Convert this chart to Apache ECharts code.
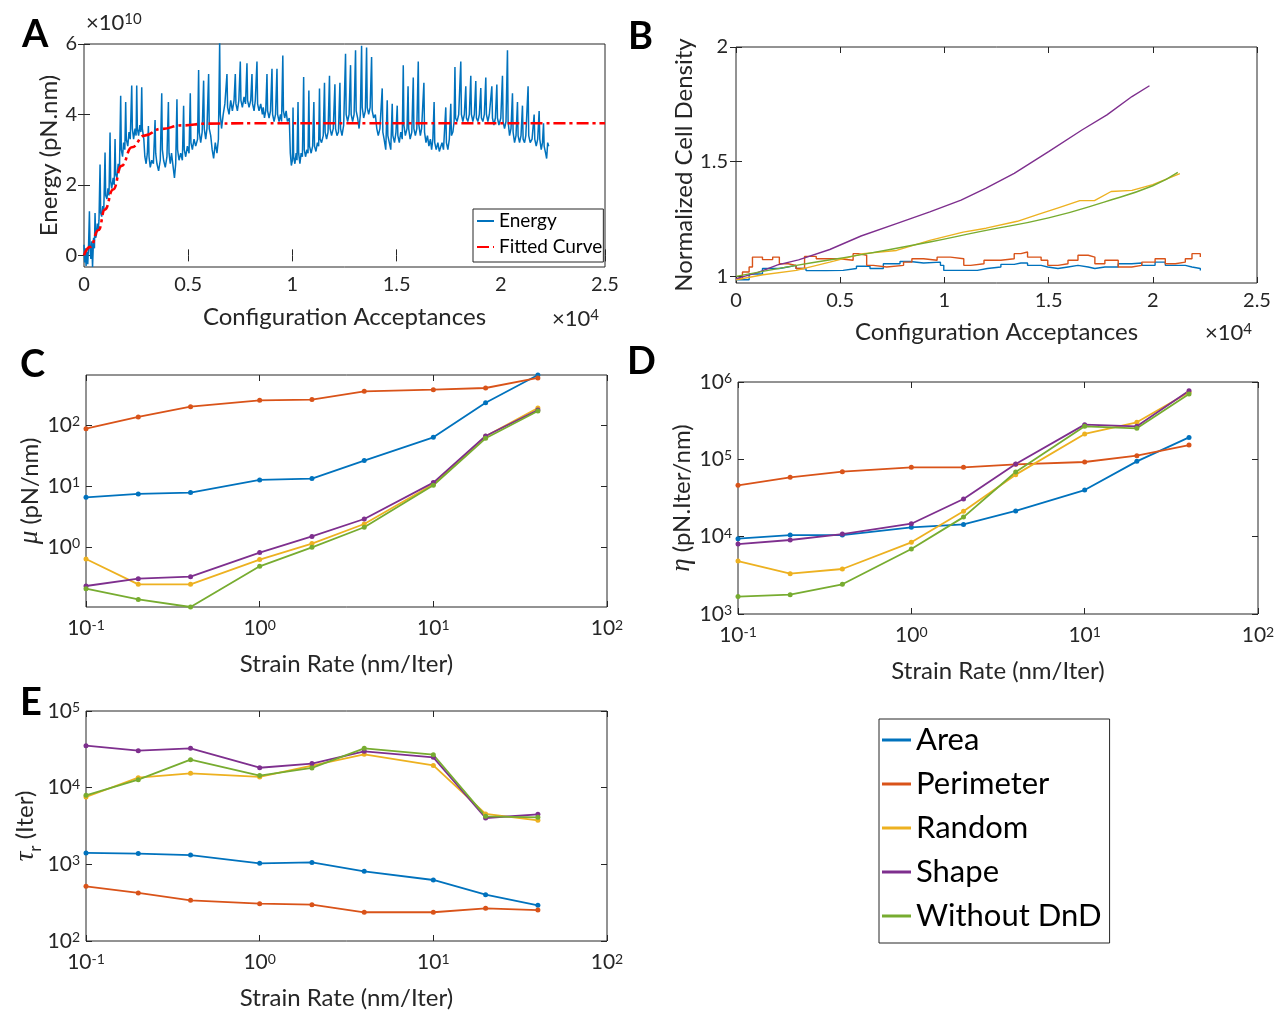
<!DOCTYPE html>
<html>
<head>
<meta charset="utf-8">
<script src="https://cdn.jsdelivr.net/npm/echarts@6/dist/echarts.min.js"></script>
<style>
html, body { margin: 0; padding: 0; background: #fff; }
#main { width: 1278px; height: 1011px; }
</style>
</head>
<body>
<div id="main"></div>
<script>
// ---- data (A: x in 1e4 acceptances, y in 1e10 pN.nm) ----
const energy = [
  [0,0.3],[0.003,-0.2],[0.006,0.2],[0.01,-0.3],[0.014,0.1],[0.018,-0.25],[0.022,0.3],[0.026,1.25],[0.029,0.2],[0.033,-0.1],
  [0.037,0.4],[0.041,-0.33],[0.046,0.5],[0.05,0.2],[0.053,1.2],[0.056,0.5],[0.06,0.6],[0.064,0.9],[0.068,0.7],[0.072,1.0],
  [0.077,2.58],[0.08,1.2],[0.085,1.1],[0.09,1.4],[0.095,1.3],[0.101,2.92],[0.104,1.7],[0.11,1.6],[0.115,1.9],[0.12,1.7],
  [0.125,3.49],[0.128,2.1],[0.133,1.9],[0.14,2.2],[0.145,2.0],[0.149,3.3],[0.152,2.3],[0.158,2.2],[0.164,2.6],[0.17,2.4],
  [0.176,4.53],[0.179,3.0],[0.185,2.8],[0.19,3.2],[0.196,3.0],[0.2,4.35],[0.203,3.3],[0.21,3.1],[0.216,3.5],[0.222,3.3],
  [0.229,4.82],[0.232,3.6],[0.238,3.3],[0.245,3.6],[0.25,3.4],[0.253,4.82],[0.256,3.6],[0.262,3.4],[0.268,3.7],[0.273,3.5],
  [0.277,4.77],[0.28,3.6],[0.287,3.3],[0.292,2.8],[0.298,2.6],[0.304,2.9],[0.309,3.67],[0.312,2.8],[0.318,2.5],[0.325,2.7],
  [0.333,2.6],[0.341,3.84],[0.344,2.9],[0.35,2.6],[0.358,2.4],[0.366,2.7],[0.373,4.6],[0.376,3.0],[0.382,2.7],[0.39,2.5],
  [0.398,2.8],[0.405,4.35],[0.408,2.9],[0.414,2.6],[0.42,2.9],[0.428,2.5],[0.434,2.2],[0.44,2.6],[0.446,4.43],[0.449,3.0],
  [0.456,2.7],[0.464,2.9],[0.472,2.7],[0.478,4.25],[0.481,3.0],[0.488,2.8],[0.496,3.1],[0.504,2.9],[0.51,4.6],[0.513,3.2],
  [0.52,3.0],[0.528,3.3],[0.536,3.1],[0.545,3.3],[0.55,5.26],[0.553,3.5],[0.56,3.2],[0.567,3.5],[0.574,4.96],[0.577,3.6],
  [0.584,3.3],[0.59,3.6],[0.598,5.15],[0.601,3.6],[0.608,3.4],[0.615,3.0],[0.622,2.75],[0.63,3.2],[0.638,2.9],[0.645,3.3],
  [0.651,6.05],[0.654,4.0],[0.66,3.6],[0.668,4.0],[0.676,4.3],[0.686,5.15],[0.689,4.2],[0.696,4.0],[0.704,4.4],[0.712,4.1],
  [0.72,4.4],[0.726,5.15],[0.729,4.3],[0.736,4.1],[0.743,4.4],[0.75,5.5],[0.753,4.4],[0.76,4.2],[0.768,4.5],[0.775,4.3],
  [0.782,5.45],[0.785,4.4],[0.792,4.2],[0.8,4.4],[0.806,5.15],[0.809,4.3],[0.816,4.1],[0.822,4.4],[0.83,5.5],[0.833,4.3],
  [0.84,4.1],[0.848,4.3],[0.856,4.0],[0.86,4.2],[0.866,3.9],[0.872,4.1],[0.878,5.15],[0.881,4.1],[0.888,3.9],[0.895,4.1],
  [0.902,5.3],[0.905,4.0],[0.912,3.8],[0.919,4.0],[0.926,5.3],[0.929,4.0],[0.936,3.8],[0.943,4.0],[0.948,3.8],[0.954,5.67],
  [0.957,4.1],[0.963,3.9],[0.97,4.1],[0.976,3.8],[0.985,3.9],[0.99,2.9],[0.995,2.55],[1.0,2.7],[1.003,4.2],[1.006,2.8],
  [1.012,2.6],[1.018,2.9],[1.022,2.7],[1.027,4.35],[1.03,2.9],[1.036,2.6],[1.042,2.9],[1.048,2.8],[1.054,5.06],[1.057,3.0],
  [1.063,2.8],[1.07,3.0],[1.075,2.9],[1.079,4.68],[1.082,3.1],[1.09,2.9],[1.097,3.1],[1.103,4.35],[1.106,3.1],[1.113,2.95],
  [1.12,3.2],[1.126,3.1],[1.13,4.74],[1.133,3.3],[1.14,3.2],[1.148,3.4],[1.154,4.9],[1.157,3.5],[1.164,3.3],[1.171,3.5],
  [1.178,5.1],[1.181,3.6],[1.188,3.4],[1.196,3.6],[1.204,4.86],[1.207,3.6],[1.214,3.4],[1.221,3.5],[1.228,4.9],[1.231,3.6],
  [1.238,3.4],[1.246,3.7],[1.255,5.72],[1.258,4.0],[1.265,3.8],[1.272,4.0],[1.279,5.4],[1.282,4.0],[1.289,3.8],[1.296,4.0],
  [1.303,5.82],[1.306,4.1],[1.313,3.9],[1.32,3.6],[1.326,4.0],[1.332,5.95],[1.335,4.2],[1.342,3.9],[1.35,4.1],[1.356,5.9],
  [1.359,4.2],[1.366,4.0],[1.373,4.2],[1.38,5.63],[1.383,4.1],[1.39,3.9],[1.398,4.0],[1.405,3.6],[1.412,3.4],[1.42,3.6],
  [1.431,4.74],[1.434,3.5],[1.44,3.3],[1.448,3.0],[1.455,4.4],[1.458,3.4],[1.465,3.2],[1.472,3.0],[1.479,4.3],[1.482,3.4],
  [1.49,3.2],[1.497,3.5],[1.503,4.25],[1.506,3.4],[1.513,3.2],[1.52,3.5],[1.527,3.3],[1.532,5.4],[1.535,3.7],[1.542,3.4],
  [1.55,3.6],[1.555,4.8],[1.558,3.6],[1.565,3.3],[1.573,3.5],[1.58,5.05],[1.583,3.6],[1.59,3.4],[1.597,3.6],[1.604,5.5],
  [1.607,3.7],[1.614,3.4],[1.62,3.6],[1.631,4.9],[1.634,3.5],[1.641,3.2],[1.648,3.4],[1.655,3.1],[1.662,3.3],[1.668,3.0],
  [1.674,3.3],[1.68,4.35],[1.683,3.2],[1.69,3.0],[1.698,3.2],[1.705,2.95],[1.712,2.9],[1.718,3.2],[1.725,3.0],[1.736,4.2],
  [1.739,3.2],[1.746,3.0],[1.753,3.3],[1.76,4.3],[1.763,3.4],[1.77,3.5],[1.776,3.8],[1.78,5.35],[1.783,3.9],[1.79,3.8],
  [1.798,4.0],[1.808,5.5],[1.811,4.0],[1.818,3.8],[1.825,4.0],[1.832,4.8],[1.835,3.9],[1.842,3.8],[1.849,4.0],[1.856,5.1],
  [1.859,4.0],[1.866,3.8],[1.873,4.0],[1.88,4.95],[1.883,3.9],[1.89,3.8],[1.897,4.0],[1.904,4.75],[1.907,3.9],[1.914,3.8],
  [1.921,4.0],[1.928,5.05],[1.931,4.0],[1.938,3.8],[1.945,4.0],[1.957,4.8],[1.96,3.9],[1.967,3.7],[1.974,3.9],[1.981,4.85],
  [1.984,3.9],[1.991,3.7],[2.0,3.9],[2.008,5.1],[2.011,3.8],[2.018,3.6],[2.025,3.8],[2.032,5.82],[2.035,3.8],[2.042,3.4],
  [2.049,3.6],[2.056,4.6],[2.059,3.5],[2.066,3.2],[2.073,3.4],[2.08,4.35],[2.083,3.4],[2.09,3.2],[2.097,3.4],[2.104,4.25],
  [2.107,3.3],[2.114,3.2],[2.12,3.4],[2.131,4.8],[2.134,3.4],[2.141,3.2],[2.15,3.3],[2.16,4.0],[2.163,3.3],[2.17,3.1],
  [2.177,3.3],[2.184,4.1],[2.187,3.3],[2.194,3.0],[2.2,3.2],[2.205,3.75],[2.208,3.1],[2.215,2.9],[2.22,2.75],[2.225,3.2],[2.23,3.1]
];
const fitX = [0, 0.03, 0.07, 0.1, 0.14, 0.18, 0.23, 0.29, 0.37, 0.47, 0.59, 0.8, 1.2, 2.5];
const fitY = [0, 0.24, 0.72, 1.3, 1.87, 2.54, 3.07, 3.40, 3.59, 3.69, 3.74, 3.75, 3.75, 3.75];

// ---- B: normalized cell density ----
const densArea = [[0,0.985],[0.063,1.01],[0.127,1.034],[0.208,1.041],[0.248,1.048],[0.288,1.034],[0.336,1.025],[0.433,1.026],
  [0.514,1.034],[0.578,1.044],[0.643,1.034],[0.707,1.055],[0.787,1.065],[0.836,1.058],[0.9,1.062],[0.981,1.048],[0.997,1.026],
  [1.093,1.026],[1.158,1.034],[1.206,1.041],[1.271,1.052],[1.335,1.058],[1.367,1.058],[1.399,1.048],[1.464,1.041],[1.496,1.034],
  [1.545,1.041],[1.593,1.048],[1.641,1.041],[1.69,1.034],[1.722,1.041],[1.77,1.041],[1.834,1.055],[1.899,1.058],[1.947,1.048],
  [2.011,1.062],[2.06,1.048],[2.108,1.048],[2.156,1.041],[2.188,1.034],[2.228,1.026]];
const densPerim = [[0,0.99],[0.031,1.019],[0.063,1.041],[0.079,1.084],[0.127,1.073],[0.176,1.084],[0.208,1.055],[0.25,1.048],
  [0.288,1.034],[0.329,1.087],[0.385,1.077],[0.449,1.077],[0.498,1.07],[0.562,1.099],[0.586,1.092],[0.627,1.048],[0.659,1.041],
  [0.723,1.048],[0.804,1.062],[0.844,1.077],[0.9,1.07],[0.965,1.084],[1.029,1.077],[1.093,1.048],[1.126,1.055],[1.19,1.07],
  [1.271,1.077],[1.335,1.099],[1.367,1.106],[1.399,1.084],[1.464,1.07],[1.496,1.048],[1.545,1.055],[1.593,1.07],[1.641,1.092],
  [1.69,1.084],[1.722,1.055],[1.77,1.07],[1.802,1.07],[1.834,1.041],[1.899,1.048],[1.947,1.062],[2.011,1.077],[2.06,1.055],
  [2.108,1.062],[2.156,1.077],[2.188,1.099],[2.228,1.084]];
const densRandom = [[0,0.985],[0.13,1.007],[0.29,1.026],[0.45,1.062],[0.61,1.099],[0.77,1.113],[0.93,1.157],[1.09,1.193],
  [1.2,1.21],[1.35,1.24],[1.45,1.27],[1.55,1.30],[1.65,1.33],[1.72,1.33],[1.8,1.37],[1.9,1.375],[2.0,1.4],[2.13,1.448]];
const densShape = [[0,0.99],[0.1,1.015],[0.2,1.05],[0.3,1.072],[0.45,1.117],[0.6,1.176],[0.77,1.23],[0.93,1.281],[1.08,1.332],
  [1.2,1.385],[1.335,1.449],[1.5,1.544],[1.66,1.638],[1.78,1.704],[1.9,1.784],[1.984,1.831]];
const densNoDnD = [[0,1.0],[0.29,1.048],[0.61,1.096],[0.93,1.15],[1.17,1.195],[1.5,1.255],[1.77,1.325],[2.0,1.395],[2.12,1.453]];

// ---- C, D, E: strain rate sweeps ----
const rates = [0.1, 0.2, 0.4, 1, 2, 4, 10, 20, 40];
const muArea   = [6.6, 7.5, 7.9, 12.7, 13.4, 26.4, 63.6, 235, 668];
const muPerim  = [88, 137, 202, 257, 264, 361, 384, 409, 597];
const muRandom = [0.644, 0.247, 0.247, 0.628, 1.15, 2.41, 10.8, 66, 192];
const muShape  = [0.232, 0.306, 0.330, 0.818, 1.51, 2.91, 11.5, 66.8, 178];
const muNoDnD  = [0.21, 0.14, 0.105, 0.488, 1.0, 2.13, 10.4, 61.2, 172];

const etaArea   = [9420, 10500, 10500, 13200, 14400, 21500, 40100, 94200, 192000];
const etaPerim  = [46100, 58500, 69200, 78800, 78800, 86200, 92400, 111500, 153000];
const etaRandom = [4840, 3320, 3820, 8450, 21300, 63400, 213000, 301000, 735000];
const etaShape  = [8030, 9060, 10800, 14700, 30700, 87100, 281000, 267000, 773000];
const etaNoDnD  = [1680, 1780, 2420, 6920, 17900, 68500, 267000, 252000, 700000];

const tauArea   = [1410, 1380, 1320, 1030, 1060, 811, 625, 402, 292];
const tauPerim  = [516, 423, 339, 307, 298, 237, 237, 267, 253];
const tauRandom = [7550, 13500, 15400, 13800, 19400, 27200, 19500, 4540, 3750];
const tauShape  = [35300, 30400, 32600, 18200, 20600, 29800, 24900, 4020, 4490];
const tauNoDnD  = [7940, 12700, 23200, 14400, 18100, 32600, 26900, 4230, 4100];

// tick positions
const ticksAcc = [0, 0.5, 1, 1.5, 2, 2.5];
const ticksEnergy = [0, 2, 4, 6];
const ticksDens = [1, 1.5, 2];
const ticksRate = [0.1, 1, 10, 100];
const ticksMu = [1, 10, 100];
const ticksEta = [1e3, 1e4, 1e5, 1e6];
const ticksTau = [1e2, 1e3, 1e4, 1e5];

const names  = ['Area', 'Perimeter', 'Random', 'Shape', 'Without DnD'];
const colors = ['#0072BD', '#D95319', '#EDB120', '#7E2F8E', '#77AC30'];

// ---- helpers ----
const INK = '#262626';
const FONT = 'Lato';
const grids = [], xAxes = [], yAxes = [], series = [];

function linFmt(v) { return String(Math.round(v * 100) / 100); }
function powFmt(v) {
  const e = Math.round(Math.log10(v));
  return '{b|10}{s|' + e + '}';
}
const powRich = {
  b: {fontFamily: FONT, fontSize: 21, lineHeight: 21, color: INK, verticalAlign: 'bottom'},
  s: {fontFamily: FONT, fontSize: 14, lineHeight: 14, color: INK, verticalAlign: 'top', padding: [0, 0, 10, 0]}
};

function panel(box, xs, ys) {
  const gi = grids.length;
  grids.push({left: box[0], top: box[1], width: box[2], height: box[3], show: true, borderColor: INK, borderWidth: 1});
  const xi = xAxes.length, yi = yAxes.length;
  function tick(vals) {
    return {show: true, inside: true, length: 6, customValues: vals, lineStyle: {color: INK, width: 1}};
  }
  function common(s) {
    return Object.assign({gridIndex: gi, axisLine: {show: false}, axisTick: tick(s.ticks),
      splitLine: {show: false}, minorTick: {show: false}}, s.scale);
  }
  const xl = {fontFamily: FONT, fontSize: 20, color: INK, margin: xs.margin, formatter: xs.fmt, customValues: xs.ticks};
  const yl = {fontFamily: FONT, fontSize: 20, color: INK, margin: ys.margin, formatter: ys.fmt, customValues: ys.ticks};
  if (xs.rich) { xl.rich = xs.rich; }
  if (ys.rich) { yl.rich = ys.rich; }
  xAxes.push(Object.assign(common(xs), {
    position: 'bottom', name: xs.name, nameLocation: 'middle', nameGap: xs.nameGap,
    nameTextStyle: {fontFamily: FONT, fontSize: 24, color: INK}, axisLabel: xl
  }));
  xAxes.push(Object.assign(common(xs), {position: 'top', axisLabel: {show: false}}));
  yAxes.push(Object.assign(common(ys), {
    position: 'left', name: ys.name, nameLocation: 'middle', nameGap: ys.nameGap,
    nameTextStyle: Object.assign({fontFamily: FONT, fontSize: 24, color: INK}, ys.nameRich ? {rich: ys.nameRich} : {}),
    axisLabel: yl
  }));
  yAxes.push(Object.assign(common(ys), {position: 'right', axisLabel: {show: false}}));
  return {x: xi, y: yi};
}

function sweep(ax, lists) {
  lists.forEach(function (vals, i) {
    series.push({
      type: 'line', name: names[i], xAxisIndex: ax.x, yAxisIndex: ax.y,
      data: rates.map(function (r, j) { return [r, vals[j]]; }),
      symbol: 'circle', symbolSize: 5, lineStyle: {color: colors[i], width: 1.8},
      itemStyle: {color: colors[i]}
    });
  });
}

// ---- A ----
const pA = panel([84, 44, 521, 223],
  {scale: {type: 'value', min: 0, max: 2.5}, ticks: ticksAcc, fmt: linFmt, margin: 8,
   name: 'Configuration Acceptances', nameGap: 38},
  {scale: {type: 'value', min: -0.33, max: 6}, ticks: ticksEnergy, fmt: linFmt, margin: 7,
   name: 'Energy (pN.nm)', nameGap: 23});
series.push({type: 'line', name: 'Energy', xAxisIndex: pA.x, yAxisIndex: pA.y, data: energy,
  symbol: 'none', lineStyle: {color: colors[0], width: 1.5}, itemStyle: {color: colors[0]}});
series.push({type: 'line', name: 'Fitted Curve', xAxisIndex: pA.x, yAxisIndex: pA.y,
  data: fitX.map(function (x, i) { return [x, fitY[i]]; }), smooth: true, smoothMonotone: 'x',
  symbol: 'none', z: 5, lineStyle: {color: '#FF0000', width: 2.6, type: [12, 4, 3, 4]}, itemStyle: {color: '#FF0000'}});

// ---- B ----
const pB = panel([736, 47, 521, 236],
  {scale: {type: 'value', min: 0, max: 2.5}, ticks: ticksAcc, fmt: linFmt, margin: 8,
   name: 'Configuration Acceptances', nameGap: 37},
  {scale: {type: 'value', min: 0.971, max: 2}, ticks: ticksDens, fmt: linFmt, margin: 8,
   name: 'Normalized Cell Density', nameGap: 38});
[densArea, densPerim, densRandom, densShape, densNoDnD].forEach(function (d, i) {
  series.push({type: 'line', name: names[i], xAxisIndex: pB.x, yAxisIndex: pB.y, data: d,
    step: (i < 2) ? 'end' : false, smooth: i === 4, symbol: 'none',
    lineStyle: {color: colors[i], width: 1.4}, itemStyle: {color: colors[i]}});
});

// ---- C, D, E ----
const logX = {scale: {type: 'log', logBase: 10, min: 0.1, max: 100}, ticks: ticksRate, fmt: powFmt, rich: powRich,
  margin: 11, name: 'Strain Rate (nm/Iter)', nameGap: 45};
const allMu = muArea.concat(muPerim, muRandom, muShape, muNoDnD);
const greek = {fontFamily: 'Liberation Serif', fontStyle: 'italic', fontSize: 27, color: INK};
const pC = panel([86, 375, 521, 232], logX,
  {scale: {type: 'log', logBase: 10, min: Math.min.apply(null, allMu), max: Math.max.apply(null, allMu)},
   ticks: ticksMu, fmt: powFmt, rich: powRich, margin: 6, name: '{i|μ} (pN/nm)', nameGap: 39, nameRich: {i: greek}});
sweep(pC, [muArea, muPerim, muRandom, muShape, muNoDnD]);

const pD = panel([738, 382, 520, 232], logX,
  {scale: {type: 'log', logBase: 10, min: 1e3, max: 1e6}, ticks: ticksEta, fmt: powFmt, rich: powRich, margin: 6,
   name: '{i|η} (pN.Iter/nm)', nameGap: 41, nameRich: {i: greek}});
sweep(pD, [etaArea, etaPerim, etaRandom, etaShape, etaNoDnD]);

const pE = panel([86, 711, 521, 230], logX,
  {scale: {type: 'log', logBase: 10, min: 1e2, max: 1e5}, ticks: ticksTau, fmt: powFmt, rich: powRich, margin: 6,
   name: '{i|τ}{sub|r} (Iter)', nameGap: 46,
   nameRich: {
     i: Object.assign({}, greek, {lineHeight: 26, verticalAlign: 'top'}),
     sub: {fontFamily: FONT, fontSize: 17, lineHeight: 17, verticalAlign: 'top', padding: [14, 0, 0, 0], color: INK}
   }});
sweep(pE, [tauArea, tauPerim, tauRandom, tauShape, tauNoDnD]);

// ---- chart ----
const supRich = {s: {fontFamily: FONT, fontSize: 15, fill: INK, verticalAlign: 'top', lineHeight: 15, padding: [0, 0, 12, 0]},
                 n: {fontFamily: FONT, fontSize: 22, fill: INK, verticalAlign: 'bottom', lineHeight: 22}};
function letter(t, x, y) {
  return {type: 'text', left: x, top: y, style: {text: t, fontFamily: FONT, fontWeight: 'bold', fontSize: 38, fill: '#000'}};
}
function times10(e, x, y) {
  return {type: 'text', left: x, top: y, style: {text: '{n|×10}{s|' + e + '}', rich: supRich}};
}

const chart = echarts.init(document.getElementById('main'));
chart.setOption({
  animation: false,
  backgroundColor: '#fff',
  grid: grids,
  xAxis: xAxes,
  yAxis: yAxes,
  series: series,
  legend: [
    {data: ['Energy', 'Fitted Curve'], orient: 'vertical', left: 473, top: 209, itemWidth: 17, itemHeight: 10,
     itemGap: 4, padding: [1, 1, 4, 3], borderColor: INK, borderWidth: 1, backgroundColor: '#fff',
     itemStyle: {opacity: 0}, textStyle: {fontFamily: FONT, fontSize: 19, color: '#000', lineHeight: 22}, selectedMode: false},
    {data: names, orient: 'vertical', left: 879, top: 719, icon: 'rect', itemWidth: 29, itemHeight: 3,
     itemGap: 12, padding: [5, 8, 11, 3], borderColor: INK, borderWidth: 1,
     textStyle: {fontFamily: FONT, fontSize: 31, color: '#000', lineHeight: 32}, selectedMode: false}
  ],
  graphic: [
    letter('A', 22, 16), letter('B', 628, 18), letter('C', 20, 346), letter('D', 627, 343), letter('E', 20, 684),
    times10(10, 86, 12), times10(4, 552, 308), times10(4, 1205, 322)
  ]
});
</script>
</body>
</html>
